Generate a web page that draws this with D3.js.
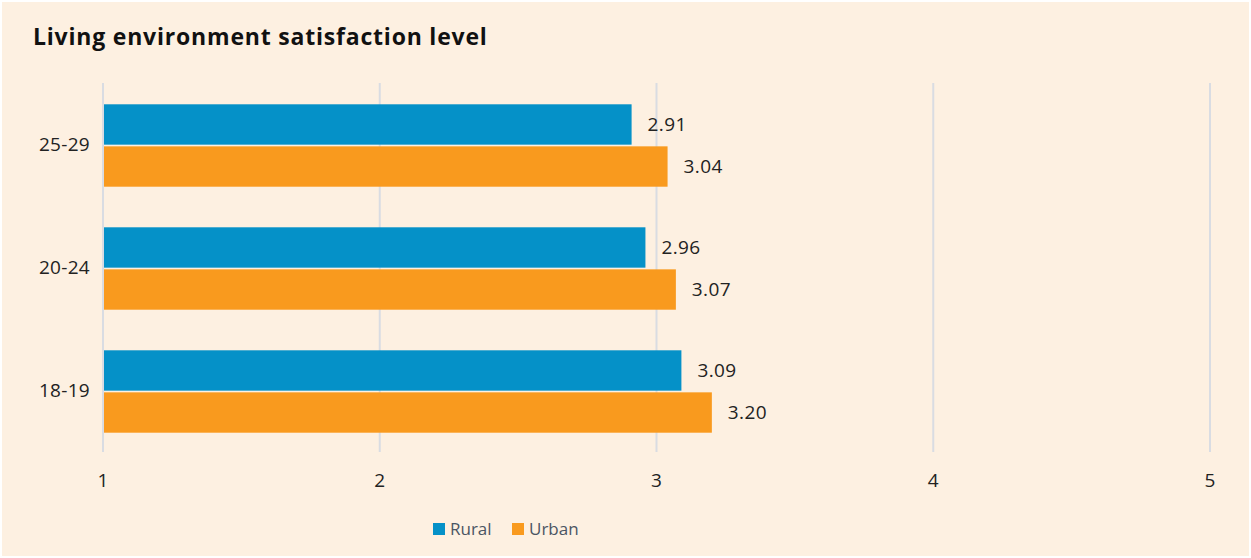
<!DOCTYPE html>
<html>
<head>
<meta charset="utf-8">
<script src="https://cdn.jsdelivr.net/npm/d3@7"></script>
<style>
  body { margin: 0; background: #ffffff; }
  svg { display: block; }
</style>
</head>
<body>
<svg id="chart" width="1251" height="558"></svg>
<script>
const categories = ["25-29", "20-24", "18-19"];
const series = ["Rural", "Urban"];
const rural = [2.91, 2.96, 3.09];
const urban = [3.04, 3.07, 3.20];
const xTicks = [1, 2, 3, 4, 5];
const colors = ["#0591c8", "#f99a1e"];

const width = 1251, height = 558;
const margin = { top: 83, right: 41, bottom: 106, left: 103 };
const labelFont = "'Open Sans', 'Noto Sans', sans-serif";

const svg = d3.select("#chart");

// background panel
svg.append("rect")
  .attr("x", 2).attr("y", 2)
  .attr("width", width - 4).attr("height", height - 4)
  .attr("fill", "#fdf0e1");

svg.append("text")
  .attr("x", 33).attr("y", 45)
  .attr("font-family", labelFont)
  .attr("font-weight", "bold")
  .attr("font-size", 23)
  .attr("letter-spacing", 0.8)
  .attr("fill", "#111")
  .text("Living environment satisfaction level");

const x = d3.scaleLinear()
  .domain([1, 5])
  .range([margin.left, width - margin.right]);

const y0 = d3.scaleBand()
  .domain(categories)
  .range([margin.top, height - margin.bottom])
  .paddingInner(0.33)
  .paddingOuter(0.165);

const y1 = d3.scaleBand()
  .domain(series)
  .range([0, y0.bandwidth()])
  .paddingInner(0.04);

// gridlines
svg.append("g")
  .selectAll("line")
  .data(xTicks)
  .join("line")
  .attr("x1", d => x(d)).attr("x2", d => x(d))
  .attr("y1", margin.top).attr("y2", height - margin.bottom)
  .attr("stroke", "#d9dce2")
  .attr("stroke-width", 2);

// x tick labels
svg.append("g")
  .selectAll("text")
  .data(xTicks)
  .join("text")
  .attr("x", d => x(d))
  .attr("y", 487)
  .attr("text-anchor", "middle")
  .attr("font-family", labelFont)
  .attr("font-size", 19)
  .attr("fill", "#222")
  .text(d => d);

const rows = categories.map((c, i) => ({ cat: c, values: [rural[i], urban[i]] }));

const groups = svg.append("g")
  .selectAll("g")
  .data(rows)
  .join("g")
  .attr("transform", d => `translate(0,${y0(d.cat) + 1})`);

const bars = groups.selectAll("g")
  .data(d => d.values.map((v, j) => ({ s: series[j], v, j })))
  .join("g");

bars.append("rect")
  .attr("x", x(1) + 1)
  .attr("y", d => y1(d.s))
  .attr("width", d => x(d.v) - x(1) - 1)
  .attr("height", y1.bandwidth())
  .attr("fill", d => colors[d.j]);

bars.append("text")
  .attr("x", d => x(d.v) + 16)
  .attr("y", d => y1(d.s) + y1.bandwidth() / 2)
  .attr("dy", "0.35em")
  .attr("font-family", labelFont)
  .attr("font-size", 19)
  .attr("letter-spacing", 0.4)
  .attr("fill", "#222")
  .text(d => d.v.toFixed(2));

// category labels
svg.append("g")
  .selectAll("text")
  .data(categories)
  .join("text")
  .attr("x", 90)
  .attr("y", d => y0(d) + y0.bandwidth() / 2)
  .attr("dy", "0.35em")
  .attr("text-anchor", "end")
  .attr("font-family", labelFont)
  .attr("font-size", 19)
  .attr("letter-spacing", 0.3)
  .attr("fill", "#222")
  .text(d => d);

// legend
const legend = svg.append("g").attr("transform", "translate(433,529)");
const legendX = [0, 79];
series.forEach((s, i) => {
  const g = legend.append("g").attr("transform", `translate(${legendX[i]},0)`);
  g.append("rect")
    .attr("x", 0).attr("y", -6)
    .attr("width", 12).attr("height", 12)
    .attr("fill", colors[i]);
  g.append("text")
    .attr("x", 17).attr("y", 0)
    .attr("dy", "0.35em")
    .attr("font-family", labelFont)
    .attr("font-size", 17)
    .attr("fill", "#4b5563")
    .text(s);
});
</script>
</body>
</html>
